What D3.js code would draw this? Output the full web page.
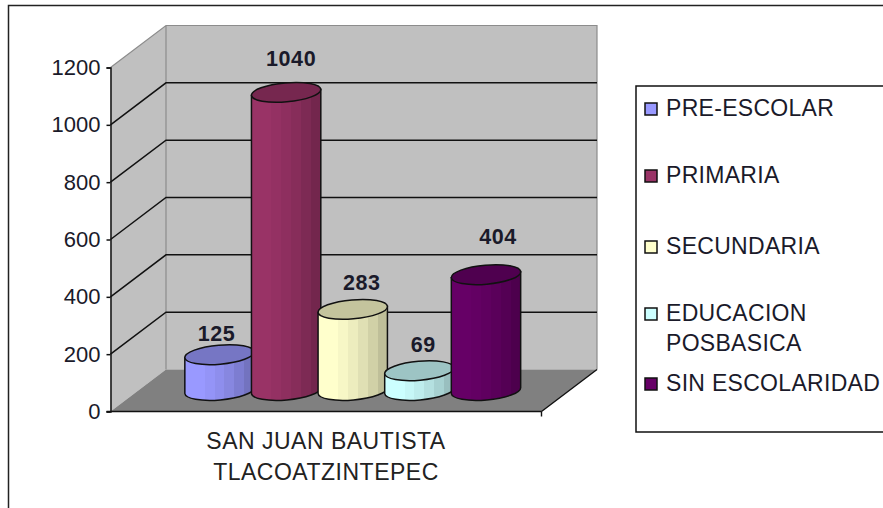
<!DOCTYPE html>
<html lang="es">
<head>
    <meta charset="UTF-8">
    <title>San Juan Bautista Tlacoatzintepec</title>
    <script src="https://d3js.org/d3.v7.min.js"></script>
    <style>
        html, body { margin: 0; padding: 0; background: #fff; overflow: hidden; }
        svg { display: block; }
        text { font-family: "Liberation Sans", Arial, sans-serif; fill: #1a1a2a; }
        .tick text { font-size: 22px; }
        .value { font-size: 21.5px; font-weight: bold; letter-spacing: .6px; text-anchor: middle; }
        .legend-text { font-size: 23px; letter-spacing: .3px; }
        .category { font-size: 23px; letter-spacing: .5px; text-anchor: middle; fill: #222; }
    </style>
</head>
<body>
    <svg width="883" height="508"></svg>

    <script>
        const categoryLines = ["SAN JUAN BAUTISTA", "TLACOATZINTEPEC"];
        const series = ["PRE-ESCOLAR", "PRIMARIA", "SECUNDARIA", "EDUCACION POSBASICA", "SIN ESCOLARIDAD"];
        const values = [125, 1040, 283, 69, 404];
        const colors = ["#9999ff", "#993366", "#ffffcc", "#ccffff", "#660066"];
        const yTicks = [0, 200, 400, 600, 800, 1000, 1200];

        // front edge of the plot box, the back wall is this shifted by depth
        const plotLeft = 110.5, plotRight = 541.5, plotBottom = 411.5, plotTop = 67.5;
        const depth = { x: 55.5, y: -42 };

        const svg = d3.select("svg");
        const defs = svg.append("defs");

        const y = d3.scaleLinear().domain([0, 1200]).range([plotBottom, plotTop]);
        const x = d3.scaleBand().domain(series).range([186.2, 519.3]);

        // outer frame runs off the right and bottom of the picture
        svg.append("path")
            .attr("d", "M8.5,508V5.5H883")
            .attr("fill", "none")
            .attr("stroke", "#222")
            .attr("stroke-width", 1.5);

        // walls and floor
        const backY = v => y(v) + depth.y;
        const backLeft = plotLeft + depth.x, backRight = plotRight + depth.x;

        svg.append("path")
            .attr("d", `M${plotLeft},${y(1200)}L${backLeft},${backY(1200)}V${backY(0)}L${plotLeft},${y(0)}Z`)
            .attr("fill", "#c0c0c0");
        svg.append("rect")
            .attr("x", backLeft).attr("y", backY(1200))
            .attr("width", backRight - backLeft).attr("height", backY(0) - backY(1200))
            .attr("fill", "#c0c0c0");
        svg.append("path")
            .attr("d", `M${plotLeft},${y(0)}L${plotRight},${y(0)}L${backRight},${backY(0)}H${backLeft}Z`)
            .attr("fill", "#808080");
        svg.append("path")
            .attr("d", `M${plotLeft},${y(1200)}L${backLeft},${backY(1200)}H${backRight}V${backY(0)}M${backLeft},${backY(1200)}V${backY(0)}`)
            .attr("fill", "none")
            .attr("stroke", "#8c8c8c")
            .attr("stroke-width", 1.2);

        // gridlines, side wall then back wall
        const grid = svg.append("g").attr("fill", "none").attr("stroke", "#111").attr("stroke-width", 1.5);
        grid.selectAll("path")
            .data(yTicks.filter(d => d > 0 && d < 1200))
            .join("path")
            .attr("d", d => `M${plotLeft},${y(d)}L${backLeft},${backY(d)}H${backRight}`);

        // floor edge on the right
        svg.append("path")
            .attr("d", `M${plotRight},${y(0)}L${backRight},${backY(0)}M${plotRight},${y(0)}v5`)
            .attr("fill", "none")
            .attr("stroke", "#111")
            .attr("stroke-width", 1.4);

        // axes
        const axis = svg.append("g")
            .attr("transform", `translate(${plotLeft},0)`)
            .call(d3.axisLeft(y).tickValues(yTicks).tickSize(4).tickPadding(6).tickFormat(d3.format("d")));
        axis.selectAll("line, .domain").attr("stroke", "#111").attr("stroke-width", 1.5);

        svg.append("line")
            .attr("x1", plotLeft - 4).attr("x2", plotRight)
            .attr("y1", y(0)).attr("y2", y(0))
            .attr("stroke", "#111").attr("stroke-width", 1.6);

        // stepped shading, like the old spreadsheet cylinders
        const shade = [1, 1, .97, .93, .88, .82, .75];
        colors.forEach((c, i) => {
            const g = defs.append("linearGradient").attr("id", `cyl${i}`);
            shade.forEach((s, j) => {
                const col = d3.rgb(c);
                const fill = d3.rgb(col.r * s, col.g * s, col.b * s).formatHex();
                g.append("stop").attr("offset", j / shade.length).attr("stop-color", fill);
                g.append("stop").attr("offset", (j + 1) / shade.length).attr("stop-color", fill);
            });
        });

        // cylinders stand half way into the floor
        const baseY = y(0) + depth.y / 2;
        const tilt = -5 * Math.PI / 180;
        const ry = 9.5;

        function ends(cx, cy, rx) {
            const dx = rx * Math.cos(tilt), dy = rx * Math.sin(tilt);
            return { x0: cx - dx, y0: cy - dy, x1: cx + dx, y1: cy + dy };
        }

        // label offset from the top of each cylinder
        const labelShift = [[-3, -21], [5, -34], [9, -27], [4, -26], [12, -38]];

        const bars = svg.append("g").selectAll("g")
            .data(series.map((name, i) => ({ name, i, value: values[i] })))
            .join("g");

        bars.each(function(d) {
            const g = d3.select(this);
            const cx = x(d.name) + x.bandwidth() / 2;
            const rx = x.bandwidth() / 2 + 1.5;
            const topY = baseY - (y(0) - y(d.value));
            const a = ends(cx, topY, rx), b = ends(cx, baseY, rx);
            const rot = tilt * 180 / Math.PI;

            g.append("path")
                .attr("d", `M${a.x0},${a.y0}L${b.x0},${b.y0}A${rx},${ry} ${rot} 0 0 ${b.x1},${b.y1}L${a.x1},${a.y1}Z`)
                .attr("fill", `url(#cyl${d.i})`)
                .attr("stroke", "#111")
                .attr("stroke-width", 1.5);

            const col = d3.rgb(colors[d.i]);
            g.append("ellipse")
                .attr("transform", `translate(${cx},${topY}) rotate(${rot})`)
                .attr("rx", rx).attr("ry", ry)
                .attr("fill", d3.rgb(col.r * .77, col.g * .77, col.b * .77).formatHex())
                .attr("stroke", "#111")
                .attr("stroke-width", 1.5);
        });

        // data labels go on last so the cylinders never hide them
        svg.append("g").selectAll("text")
            .data(values)
            .join("text")
            .attr("class", "value")
            .attr("x", (d, i) => x(series[i]) + x.bandwidth() / 2 + labelShift[i][0])
            .attr("y", (d, i) => baseY - (y(0) - y(d)) + labelShift[i][1])
            .attr("dy", ".35em")
            .text(d => d);

        // category label
        svg.append("g").selectAll("text")
            .data(categoryLines)
            .join("text")
            .attr("class", "category")
            .attr("x", 326)
            .attr("y", (d, i) => 449 + i * 31)
            .text(d => d);

        // legend
        svg.append("path")
            .attr("d", "M883,86H636V432H883")
            .attr("fill", "#fff")
            .attr("stroke", "#111")
            .attr("stroke-width", 1.5);

        const legendY = [109, 176, 247, 314, 384];
        const legend = svg.append("g").selectAll("g")
            .data(series)
            .join("g")
            .attr("transform", (d, i) => `translate(645,${legendY[i]})`);

        legend.append("rect")
            .attr("x", 0).attr("y", -6)
            .attr("width", 12).attr("height", 12)
            .attr("fill", (d, i) => colors[i])
            .attr("stroke", "#111")
            .attr("stroke-width", 1.5);

        legend.each(function(d) {
            const words = d === "EDUCACION POSBASICA" ? d.split(" ") : [d];
            d3.select(this).selectAll("text")
                .data(words)
                .join("text")
                .attr("class", "legend-text")
                .attr("x", 21)
                .attr("y", (w, i) => 7 + i * 30)
                .text(w => w);
        });
    </script>
</body>
</html>
